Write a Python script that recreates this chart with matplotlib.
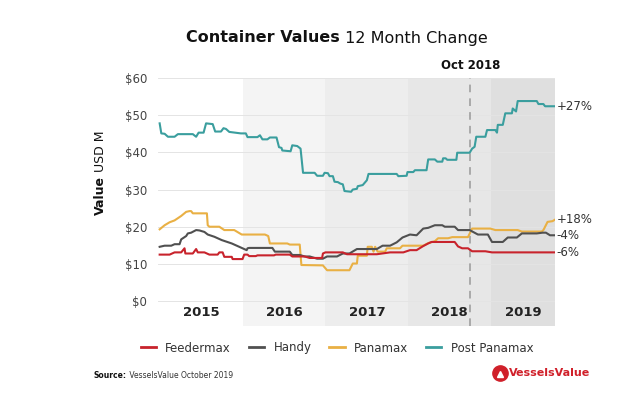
import numpy as np
import matplotlib
matplotlib.use('Agg')
import matplotlib.pyplot as plt
from matplotlib.lines import Line2D

# time is in years after jan 2015, values in USD M
post_panamax_t = [0.00, 0.02, 0.06, 0.10, 0.18, 0.22, 0.40, 0.44, 0.47, 0.53, 0.56, 0.64, 0.67, 0.74, 0.77,
                  0.80, 0.84, 0.98, 1.04, 1.06, 1.18, 1.21, 1.24, 1.30, 1.33, 1.41, 1.44, 1.47, 1.48, 1.58,
                  1.60, 1.66, 1.70, 1.73, 1.87, 1.90, 1.97, 1.99, 2.03, 2.05, 2.09, 2.11, 2.15, 2.18, 2.21,
                  2.23, 2.31, 2.33, 2.38, 2.39, 2.45, 2.50, 2.52, 2.86, 2.88, 2.98, 2.99, 3.06, 3.08, 3.22,
                  3.24, 3.32, 3.35, 3.41, 3.42, 3.45, 3.47, 3.58, 3.59, 3.74, 3.77, 3.80, 3.82, 3.93, 3.95,
                  4.05, 4.07, 4.08, 4.14, 4.17, 4.25, 4.26, 4.30, 4.32, 4.55, 4.57, 4.63, 4.65, 4.77]
post_panamax_v = [47.8, 45.1, 45.0, 44.2, 44.2, 44.9, 44.9, 44.2, 45.3, 45.3, 47.8, 47.6, 45.6, 45.6, 46.5,
                  46.3, 45.5, 45.1, 45.1, 44.1, 44.1, 44.6, 43.5, 43.5, 44.0, 44.0, 41.4, 41.2, 40.5, 40.3,
                  41.9, 41.7, 41.0, 34.5, 34.5, 33.7, 33.7, 34.5, 34.4, 33.6, 33.6, 32.1, 32.0, 31.6, 31.4,
                  29.6, 29.4, 30.0, 30.2, 30.9, 31.2, 32.5, 34.2, 34.2, 33.6, 33.7, 34.7, 34.7, 35.2, 35.2,
                  38.1, 38.1, 37.5, 37.5, 38.4, 38.4, 38.0, 38.0, 39.9, 39.9, 41.0, 41.5, 44.2, 44.2, 46.0,
                  46.0, 45.3, 47.4, 47.4, 50.5, 50.5, 51.8, 51.0, 53.8, 53.8, 53.0, 53.0, 52.4, 52.4]

panamax_t = [0.00, 0.06, 0.12, 0.18, 0.26, 0.32, 0.36, 0.38, 0.40, 0.57, 0.58, 0.60, 0.72, 0.78, 0.90,
             0.99, 1.27, 1.31, 1.33, 1.54, 1.57, 1.69, 1.71, 1.97, 2.02, 2.29, 2.33, 2.38, 2.39, 2.50,
             2.51, 2.56, 2.58, 2.60, 2.63, 2.72, 2.74, 2.90, 2.93, 3.18, 3.24, 3.32, 3.36, 3.48, 3.53,
             3.72, 3.77, 3.99, 4.05, 4.32, 4.37, 4.61, 4.63, 4.68, 4.74, 4.77]
panamax_v = [19.3, 20.4, 21.2, 21.7, 22.9, 24.0, 24.2, 24.2, 23.6, 23.6, 20.4, 20.0, 20.0, 19.1, 19.1,
             17.9, 17.9, 17.5, 15.5, 15.5, 15.2, 15.2, 9.7, 9.6, 8.3, 8.3, 10.1, 10.1, 12.2, 12.2,
             14.6, 14.6, 13.3, 14.6, 13.3, 13.3, 14.2, 14.2, 14.9, 14.9, 15.6, 16.1, 16.9, 16.9, 17.2,
             17.2, 19.5, 19.5, 19.1, 19.1, 18.7, 18.7, 19.1, 21.3, 21.5, 21.9]

handy_t = [0.00, 0.06, 0.14, 0.18, 0.24, 0.26, 0.32, 0.34, 0.38, 0.44, 0.48, 0.54, 0.58, 0.66, 0.75,
           0.87, 0.96, 1.05, 1.06, 1.08, 1.36, 1.39, 1.57, 1.60, 1.69, 1.75, 1.81, 1.90, 1.97, 2.02,
           2.14, 2.21, 2.29, 2.38, 2.62, 2.69, 2.78, 2.86, 2.93, 3.02, 3.10, 3.18, 3.24, 3.32, 3.41,
           3.44, 3.56, 3.60, 3.74, 3.84, 3.96, 4.01, 4.14, 4.20, 4.31, 4.37, 4.55, 4.62, 4.66, 4.71, 4.77]
handy_v = [14.6, 14.9, 14.9, 15.3, 15.3, 16.6, 17.5, 18.2, 18.4, 19.1, 19.0, 18.6, 17.9, 17.3, 16.4,
           15.5, 14.6, 13.7, 14.2, 14.3, 14.3, 13.3, 13.3, 12.4, 12.4, 12.0, 12.0, 11.4, 11.4, 12.0,
           12.0, 12.8, 12.8, 14.0, 14.0, 14.9, 14.9, 15.8, 17.1, 17.9, 17.7, 19.5, 19.7, 20.4, 20.4,
           20.0, 20.0, 19.1, 19.1, 17.9, 17.9, 15.9, 15.9, 17.1, 17.1, 18.2, 18.2, 18.4, 18.4, 17.7, 17.7]

feedermax_t = [0.00, 0.12, 0.18, 0.26, 0.30, 0.31, 0.40, 0.44, 0.46, 0.54, 0.60, 0.70, 0.72, 0.76, 0.78,
               0.87, 0.88, 1.00, 1.02, 1.06, 1.08, 1.16, 1.18, 1.38, 1.40, 1.57, 1.60, 1.75, 1.81, 1.96,
               1.97, 2.00, 2.21, 2.26, 2.62, 2.78, 2.94, 3.02, 3.10, 3.18, 3.24, 3.28, 3.56, 3.60, 3.65,
               3.72, 3.77, 3.93, 4.01, 4.77]
feedermax_v = [12.5, 12.5, 13.1, 13.1, 14.2, 12.8, 12.8, 14.0, 13.1, 13.1, 12.5, 12.5, 13.1, 13.1, 11.9,
               11.9, 11.3, 11.3, 12.5, 12.5, 12.1, 12.1, 12.3, 12.3, 12.5, 12.5, 12.0, 12.0, 11.6, 11.6,
               12.8, 13.1, 13.1, 12.6, 12.6, 13.1, 13.1, 13.7, 13.7, 14.8, 15.5, 15.9, 15.9, 14.7, 14.2,
               14.2, 13.4, 13.4, 13.1, 13.1]

series_names = ['Feedermax', 'Handy', 'Panamax', 'Post Panamax']
series_colors = ['#c8232c', '#505050', '#e9b044', '#3a9e9e']
change_labels = ['-6%', '-4%', '+18%', '+27%']
years = [2015, 2016, 2017, 2018, 2019]
band_colors = ['#ffffff', '#f4f4f4', '#ededed', '#e7e7e7', '#dfdfdf']
y_ticks = [0, 10, 20, 30, 40, 50, 60]
marker_date = 2018.75
x_end = 2019.77

plt.rcParams['font.family'] = ['DejaVu Sans']

fig = plt.figure(figsize=(6.4, 3.99), dpi=100)
ax = fig.add_axes([158 / 640, 1 - 326 / 399, 397 / 640, 248 / 399])
ax.set_xlim(2014.98, x_end)
ax.set_ylim(-6.7, 60)
renderer = fig.canvas.get_renderer()

#shaded year bands
for i, yr in enumerate(years):
    ax.axvspan(yr, min(yr + 1, x_end), color=band_colors[i], lw=0, zorder=0)
    ax.text(yr + 0.5 if yr < 2019 else (yr + x_end) / 2, -3, str(yr), ha='center', va='center',
            fontsize=9.5, fontweight='semibold', color='#222222')

for v in y_ticks:
    ax.axhline(v, color='#e4e4e4', lw=0.7, zorder=1)

ax.axvline(marker_date, color='#999999', lw=1.1, ls=(0, (5, 4)), zorder=2)
ax.text(marker_date, 61.5, 'Oct 2018', ha='center', va='bottom', fontsize=8.5,
        fontweight='bold', color='#111111')

#the four lines
data = [(feedermax_t, feedermax_v), (handy_t, handy_v), (panamax_t, panamax_v), (post_panamax_t, post_panamax_v)]
zs = [6, 5, 4, 3]
for (t, v), name, col, lab, z in zip(data, series_names, series_colors, change_labels, zs):
    x = 2015 + np.array(t)
    ax.plot(x, v, color=col, lw=1.5, label=name, zorder=z)
    ax.text(x[-1] + 0.02, v[-1], lab, ha='left', va='center', fontsize=8.5, color='#333333')

for s in ax.spines.values():
    s.set_visible(False)
ax.set_xticks([])
ax.set_yticks(y_ticks)
ax.set_yticklabels([f'${v}' for v in y_ticks], fontsize=8.5, color='#444444')
ax.tick_params(axis='y', length=0, pad=8)

#y axis label in two weights, stacked bottom to top
yl1 = fig.text(100 / 640, 0, 'Value', rotation=90, ha='center', va='bottom',
               fontsize=9, fontweight='bold', color='#111111')
yl2 = fig.text(100 / 640, 0, 'USD M', rotation=90, ha='center', va='bottom',
               fontsize=9, color='#111111')
h1 = yl1.get_window_extent(renderer).height
h2 = yl2.get_window_extent(renderer).height
base = 399 - 215
yl1.set_y(base / 399)
yl2.set_y((base + h1 + 4) / 399)

#title, bold part then regular part
t1 = fig.text(0, 1 - 38 / 399, 'Container Values', fontsize=11.5, fontweight='bold', va='center', color='#111111')
t2 = fig.text(0, 1 - 38 / 399, ' 12 Month Change', fontsize=11.5, va='center', color='#111111')
w1 = t1.get_window_extent(renderer).width
w2 = t2.get_window_extent(renderer).width
start = 337 - (w1 + w2) / 2
t1.set_x(start / 640)
t2.set_x((start + w1) / 640)

handles = [Line2D([0], [0], color=c, lw=2) for c in series_colors]
fig.legend(handles, series_names, loc='center', bbox_to_anchor=(337 / 640, 1 - 348 / 399), ncol=4,
           frameon=False, fontsize=8.5, handlelength=1.3, handletextpad=0.8, columnspacing=1.5,
           labelcolor='#333333')

#footer
s1 = fig.text(94 / 640, 1 - 375 / 399, 'Source:', fontsize=5.5, fontweight='bold', va='center', color='#111111')
ws = s1.get_window_extent(renderer).width
fig.text((94 + ws) / 640, 1 - 375 / 399, ' VesselsValue October 2019', fontsize=5.5, va='center', color='#333333')

fig.add_artist(Line2D([500 / 640], [1 - 373 / 399], marker='o', ms=11, color='#d0202a', transform=fig.transFigure))
fig.add_artist(Line2D([500 / 640], [1 - 373.5 / 399], marker='^', ms=5, color='white', transform=fig.transFigure))
fig.text(509 / 640, 1 - 373 / 399, 'VesselsValue', fontsize=8, fontweight='bold', va='center',
         color='#d0202a')

fig.savefig('out.png', dpi=100)
